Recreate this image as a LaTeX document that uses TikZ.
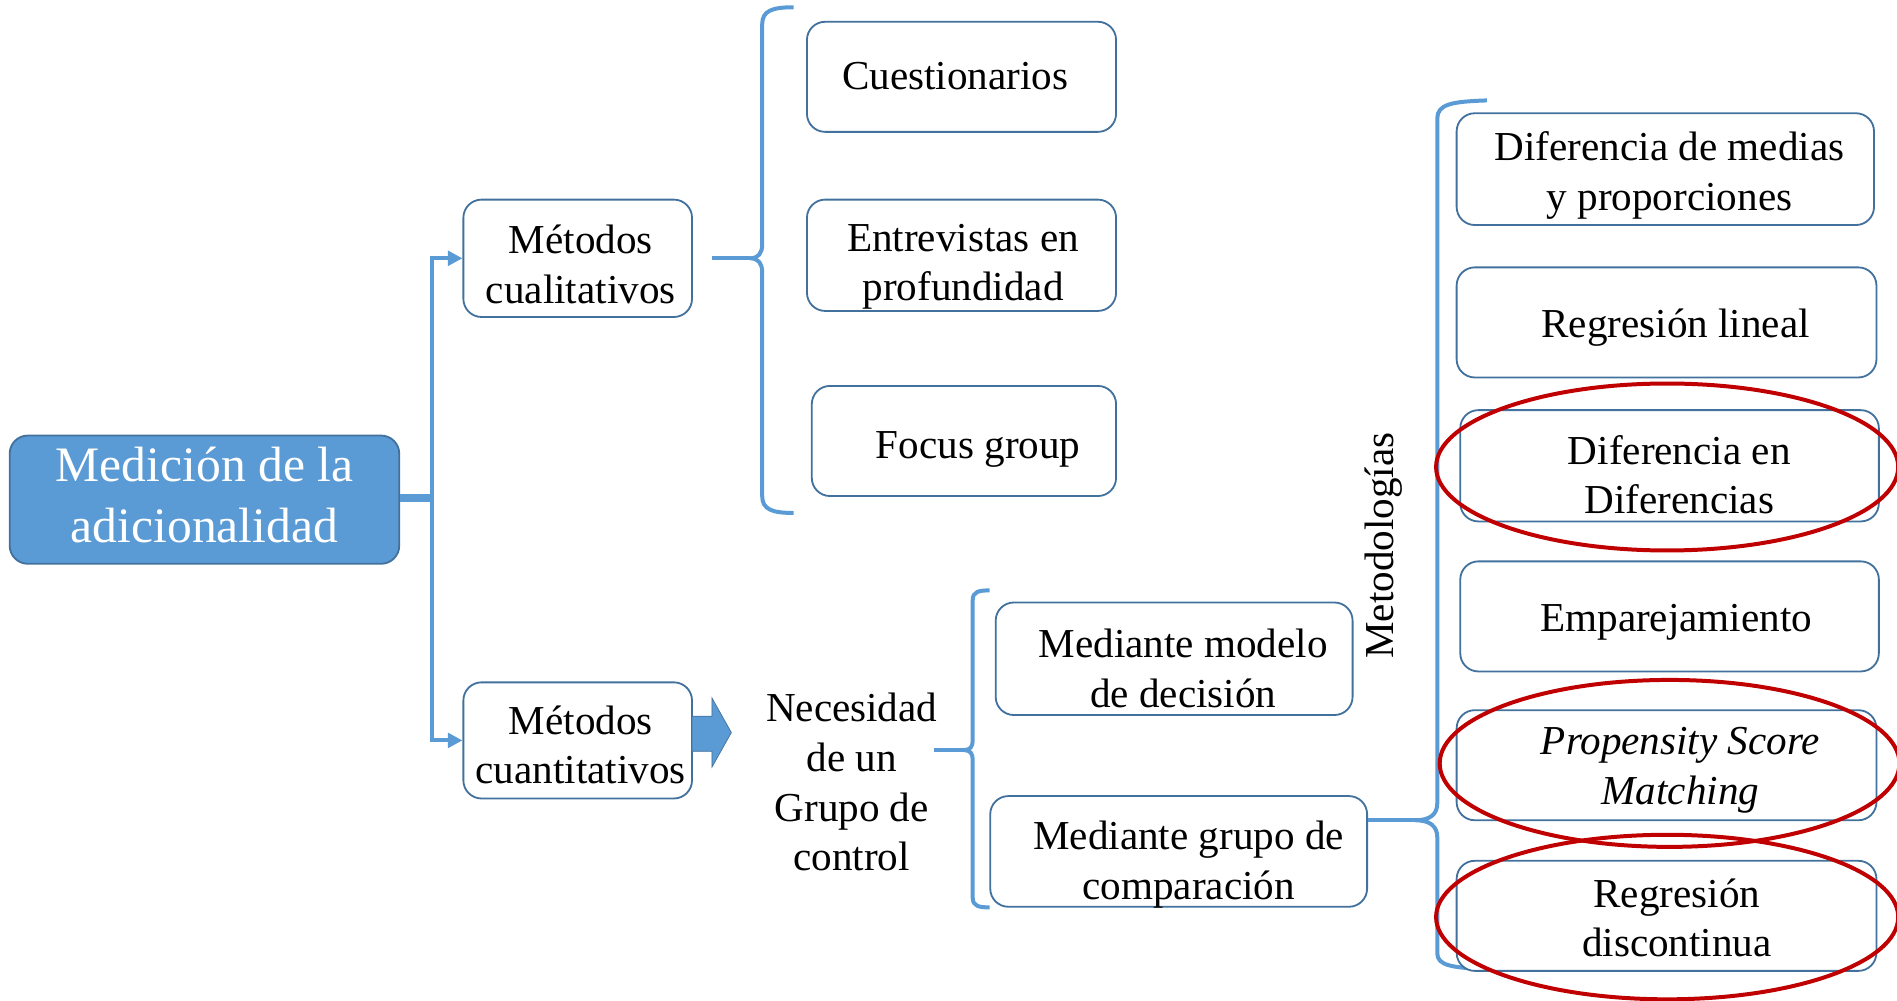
\documentclass[tikz,border=0pt]{standalone}
\usepackage{fontspec}
\setmainfont{Liberation Serif}
\usetikzlibrary{arrows.meta,calc}
\definecolor{conblue}{RGB}{91,155,213}
\definecolor{edgeblue}{RGB}{65,113,156}
\definecolor{hlred}{RGB}{192,0,0}
\begin{document}
\begin{tikzpicture}[x=1pt,y=-1pt,
  box/.style={draw=edgeblue, line width=1.5pt, rounded corners=15pt, fill=white, inner sep=0pt},
  conn/.style={draw=conblue, line width=3.3pt},
  txt/.style={font=\fontsize{34}{41}\selectfont, align=center, inner sep=0pt},
  hl/.style={draw=hlred, line width=3.3pt},
  tip/.style={-{Triangle[length=12pt,width=12pt]}}]
\useasboundingbox (0,0) rectangle (1568,827);
\clip (0,0) rectangle (1568,827);

% main box
\node[box, fill=conblue, minimum width=322pt, minimum height=106pt] (main) at (169,413) {};
\node[txt, font=\fontsize{41}{50}\selectfont, text=white] (maint) at (169,413) {\strut Medición de la\\\strut adicionalidad};

% level 1
\node[box, minimum width=189pt, minimum height=97pt] (cual) at (477.5,213.5) {};
\node[txt] (cualt) at (480,222) {\strut Métodos\\\strut cualitativos};
\node[box, minimum width=189pt, minimum height=96pt] (cuant) at (477.5,612) {};
\node[txt] (cuantt) at (480,619) {\strut Métodos\\\strut cuantitativos};

\draw[conn,tip] ([yshift=3pt]main.east) -- ++(26,0) |- (cual.west);
\draw[conn,tip] ([yshift=0pt]main.east) -- ++(26,0) |- (cuant.west);

% qualitative methods
\node[box, minimum width=255.5pt, minimum height=91pt] (cuest) at (794.75,63.5) {};
\node[txt] (cuestt) at (789.5,66) {\strut Cuestionarios};
\node[box, minimum width=255.5pt, minimum height=92pt] (entr) at (794.75,211) {};
\node[txt] (entrt) at (796,220) {\strut Entrevistas en\\\strut profundidad};
\node[box, minimum width=251.5pt, minimum height=91pt] (focus) at (796.75,364.5) {};
\node[txt] (focust) at (808.5,371) {\strut Focus group};

\coordinate (br1tip) at (620,213.5);
\draw[conn] (656,6) .. controls (638,6) and (630,9) .. (630,20) -- (630,202)
  .. controls (630,209) and (627,213.5) .. (br1tip)
  .. controls (627,213.5) and (630,218) .. (630,225) -- (630,410)
  .. controls (630,421) and (638,424) .. (656,424);
\draw[conn] ([xshift=16pt]cual.east) -- (br1tip);

% block arrow
\filldraw[fill=conblue, draw=edgeblue, line width=0.6pt] (572,592) -- (588.5,592) -- (588.5,577) -- (604.5,605.5) -- (588.5,634) -- (588.5,621) -- (572,621) -- cycle;

\node[txt] (nec) at (704,650) {\strut Necesidad\\\strut de un\\\strut Grupo de\\\strut control};

% control group
\node[box, minimum width=295pt, minimum height=93pt] (medmod) at (970.5,544.5) {};
\node[txt] (medmodt) at (978,556) {\strut Mediante modelo\\\strut de decisión};
\node[box, minimum width=311.5pt, minimum height=91.5pt] (medgru) at (974.25,703.75) {};
\node[txt] (medgrut) at (982.5,714.6) {\strut Mediante grupo de\\\strut comparación};

\coordinate (br2tip) at (797,620);
\coordinate (necend) at (772,620);
\draw[conn] (818,488) .. controls (809,488) and (804,489) .. (804,496) -- (804,612)
  .. controls (804,617) and (802,620) .. (br2tip)
  .. controls (802,620) and (804,623) .. (804,628) -- (804,742)
  .. controls (804,749) and (809,750) .. (818,750);
\draw[conn] (necend) -- (br2tip);

% methodologies
\node[txt, rotate=90] (metod) at (1144,451) {\strut Metodologías};

\coordinate (br3tip) at (1170,678);
\draw[conn] (1229,83) .. controls (1200,84) and (1188,86) .. (1188,98) -- (1188,664)
  .. controls (1188,673) and (1182,678) .. (br3tip)
  .. controls (1182,678) and (1188,683) .. (1188,692) -- (1188,788)
  .. controls (1188,798) and (1200,800) .. (1229,801);
\draw[conn] (medgru.east |- br3tip) -- (br3tip);

\node[box, minimum width=345pt, minimum height=92.4pt] (r1) at (1376.5,139.8) {};
\node[txt] (r1t) at (1380,145) {\strut Diferencia de medias\\\strut y proporciones};
\node[box, minimum width=347pt, minimum height=91pt] (r2) at (1377.5,266.5) {};
\node[txt] (r2t) at (1385,271) {\strut Regresión lineal};
\node[box, minimum width=346pt, minimum height=92pt] (r3) at (1380,385) {};
\node[txt] (r3t) at (1388,396) {\strut Diferencia en\\\strut Diferencias};
\node[box, minimum width=346pt, minimum height=91pt] (r4) at (1380,509.5) {};
\node[txt] (r4t) at (1385.5,514) {\strut Emparejamiento};
\node[box, minimum width=347pt, minimum height=91pt] (r5) at (1377.5,632.5) {};
\node[txt, font=\fontsize{34}{41}\selectfont\itshape] (r5t) at (1389,636) {\strut Propensity Score\\\strut Matching};
\node[box, minimum width=347pt, minimum height=91pt] (r6) at (1377.5,757) {};
\node[txt] (r6t) at (1386,762) {\strut Regresión\\\strut discontinua};

% highlights
\draw[hl] (1378,386) ellipse [x radius=191, y radius=69];
\draw[hl] (1380,631) ellipse [x radius=190, y radius=69];
\draw[hl] (1378,758) ellipse [x radius=191, y radius=68];
\end{tikzpicture}
\end{document}
